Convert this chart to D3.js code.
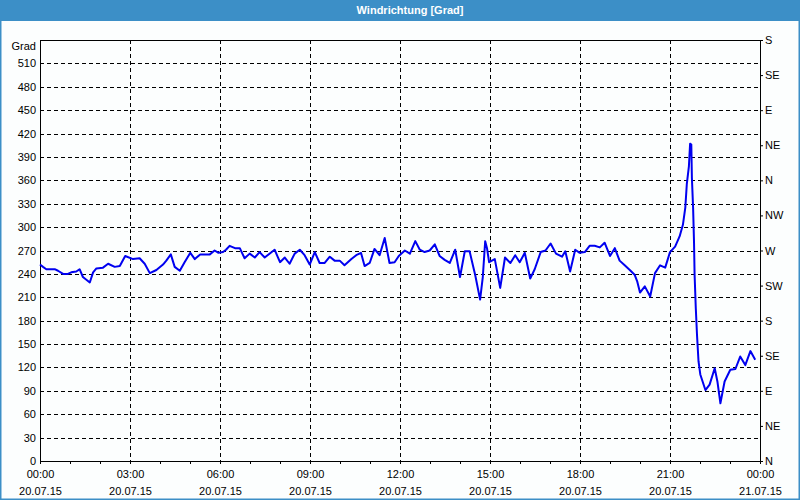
<!DOCTYPE html>
<html>
<head>
<meta charset="utf-8">
<script src="https://cdn.jsdelivr.net/npm/d3@7"></script>
<style>
  body { margin: 0; background: #fff; }
  svg { display: block; font-family: "Liberation Sans", Arial, sans-serif; }
</style>
</head>
<body>
<div id="chart"></div>
<script>
// Zeitpunkte in Stunden nach 20.07.15 00:00
const hours = [
  0, 0.1, 0.21, 0.49, 0.6, 0.77, 0.93, 1.04, 1.21, 1.32, 1.43, 1.66, 1.77, 1.88, 2.1, 2.27, 2.49, 2.66, 2.84,
  3.1, 3.32, 3.49, 3.66, 3.88, 4.1, 4.21, 4.36, 4.49, 4.66, 4.82, 5.01, 5.16, 5.34, 5.66, 5.82, 5.95,
  6.1, 6.2, 6.32, 6.5, 6.66, 6.82, 6.99, 7.16, 7.32, 7.49, 7.82, 8.0, 8.16, 8.32, 8.49, 8.66, 8.82, 8.99,
  9.16, 9.32, 9.49, 9.66, 9.82, 9.99, 10.15, 10.38, 10.54, 10.7, 10.82, 10.99, 11.15, 11.32, 11.49, 11.65, 11.82, 11.96,
  12.16, 12.33, 12.51, 12.66, 12.82, 12.99, 13.16, 13.32, 13.49, 13.66, 13.84, 14.0, 14.16, 14.32, 14.51, 14.67, 14.76,
  14.84, 14.9, 14.97, 15.16, 15.34, 15.5, 15.68, 15.84, 15.99, 16.16, 16.34, 16.49, 16.69, 16.85, 17.02, 17.2, 17.4,
  17.51, 17.67, 17.84, 17.99, 18.16, 18.32, 18.49, 18.66, 18.82, 19.0, 19.16, 19.32, 19.49, 19.66, 19.82, 19.91,
  20.0, 20.16, 20.34, 20.5, 20.67, 20.84, 21.0, 21.17, 21.32, 21.43, 21.51, 21.56, 21.63, 21.67, 21.71, 21.73,
  21.77, 21.8, 21.82, 21.86, 21.9, 21.95, 22.01, 22.18, 22.32, 22.49, 22.58, 22.68, 22.82, 23.01, 23.18, 23.34,
  23.51, 23.68, 23.84
];

// Windrichtung in Grad
const grad = [
  252, 249, 246, 246, 244, 240, 240, 242, 243, 246, 236, 229, 242, 247, 248, 253, 249, 250, 263,
  259, 260, 253, 241, 245, 252, 257, 265, 249, 244, 255, 267, 259, 265, 265, 270, 267,
  268, 271, 276, 273, 273, 260, 266, 261, 268, 261, 271, 255, 261, 253, 266, 271, 264, 252,
  268, 254, 254, 262, 257, 257, 251, 259, 264, 267, 250, 254, 272, 264, 286, 254, 255, 263,
  270, 266, 282, 271, 268, 270, 278, 263, 258, 254, 271, 236, 269, 269, 238, 207, 236,
  282, 273, 255, 259, 222, 261, 254, 264, 255, 267, 234, 246, 268, 270, 279, 266, 262,
  269, 243, 271, 267, 268, 276, 276, 274, 280, 263, 273, 257, 251, 245, 239, 230,
  216, 224, 211, 241, 251, 248, 268, 275, 288, 303, 325, 355, 378, 407, 406, 363,
  325, 282, 239, 196, 162, 128, 111, 91, 98, 119, 102, 74, 102, 117, 118, 134,
  123, 141, 130
];

// Achsenbeschriftung
const yTicks = d3.range(0, 511, 30);
const compassTicks = d3.range(0, 541, 45);
const compassNames = ["N", "NE", "E", "SE", "S", "SW", "W", "NW", "N", "NE", "E", "SE", "S"];
const title = "Windrichtung [Grad]";

const width = 800;
const height = 500;
const margin = { top: 40, right: 40, bottom: 39, left: 40 };
const blue = "#3c8fc7";

const start = new Date(2015, 6, 20, 0, 0);
const toDate = h => new Date(start.getTime() + h * 3600 * 1000);
const data = hours.map((h, i) => ({ t: toDate(h), v: grad[i] }));

const svg = d3.select("#chart")
  .append("svg")
  .attr("width", width)
  .attr("height", height);

// Hintergrund + Rahmen
svg.append("rect")
  .attr("x", 0.5).attr("y", 0.5)
  .attr("width", width - 1).attr("height", height - 1)
  .attr("fill", "#fcfefe")
  .attr("stroke", blue)
  .attr("stroke-width", 2);

// Titelleiste
svg.append("rect")
  .attr("x", 0).attr("y", 0)
  .attr("width", width).attr("height", 21)
  .attr("fill", blue);

svg.append("text")
  .attr("x", 410).attr("y", 14)
  .attr("text-anchor", "middle")
  .attr("fill", "#fff")
  .attr("font-size", "11px")
  .attr("font-weight", "bold")
  .text(title);

const x = d3.scaleTime()
  .domain([start, toDate(24)])
  .range([margin.left, width - margin.right]);

const y = d3.scaleLinear()
  .domain([0, 540])
  .range([height - margin.bottom, margin.top]);

// Gitter
const grid = svg.append("g")
  .attr("stroke", "#000")
  .attr("stroke-width", 1)
  .attr("stroke-dasharray", "4,3")
  .attr("shape-rendering", "crispEdges");

grid.selectAll(".h")
  .data(yTicks.filter(d => d > 0))
  .join("line")
  .attr("x1", margin.left).attr("x2", width - margin.right)
  .attr("y1", d => Math.round(y(d)) + 0.5)
  .attr("y2", d => Math.round(y(d)) + 0.5);

grid.selectAll(".v")
  .data(d3.range(3, 24, 3))
  .join("line")
  .attr("x1", d => Math.round(x(toDate(d))) + 0.5)
  .attr("x2", d => Math.round(x(toDate(d))) + 0.5)
  .attr("y1", margin.top).attr("y2", height - margin.bottom);

// Linke Achse
const yAxis = d3.axisLeft(y).tickValues(yTicks).tickSize(0).tickPadding(4);
svg.append("g")
  .attr("transform", "translate(" + margin.left + ",0)")
  .call(yAxis)
  .call(g => g.select(".domain").remove())
  .selectAll("text")
  .attr("font-size", "11px")
  .attr("fill", "#000");

svg.append("text")
  .attr("x", 36).attr("y", 50)
  .attr("text-anchor", "end")
  .attr("font-size", "11px")
  .text("Grad");

// Rechte Achse (Himmelsrichtungen)
const rAxis = d3.axisRight(y)
  .tickValues(compassTicks)
  .tickSize(3)
  .tickPadding(2)
  .tickFormat((d, i) => compassNames[i]);
svg.append("g")
  .attr("transform", "translate(" + (width - margin.right) + ",0)")
  .call(rAxis)
  .call(g => g.select(".domain").remove())
  .selectAll("text")
  .attr("font-size", "11px")
  .attr("fill", "#000");

// Untere Achse, kleine Striche jede Stunde
const xMinor = d3.axisBottom(x)
  .ticks(d3.timeHour.every(1))
  .tickSize(3)
  .tickFormat("");
svg.append("g")
  .attr("transform", "translate(0," + (height - margin.bottom) + ")")
  .call(xMinor)
  .call(g => g.select(".domain").remove());

const xTickDates = d3.range(0, 25, 3).map(toDate);
const xAxis = d3.axisBottom(x)
  .tickValues(xTickDates)
  .tickSize(0)
  .tickPadding(9)
  .tickFormat(d3.timeFormat("%H:%M"));
const xg = svg.append("g")
  .attr("transform", "translate(0," + (height - margin.bottom) + ")")
  .call(xAxis);
xg.select(".domain").remove();
xg.selectAll("text").attr("font-size", "11px").attr("fill", "#000");

// zweite Zeile mit Datum
xg.selectAll(".tick")
  .append("text")
  .attr("y", 34)
  .attr("fill", "#000")
  .attr("font-size", "11px")
  .attr("text-anchor", "middle")
  .text(d => d3.timeFormat("%d.%m.%y")(d));

// Rahmen vom Diagramm
svg.append("rect")
  .attr("x", margin.left + 0.5).attr("y", margin.top + 0.5)
  .attr("width", width - margin.left - margin.right)
  .attr("height", height - margin.top - margin.bottom)
  .attr("fill", "none")
  .attr("stroke", "#000")
  .attr("shape-rendering", "crispEdges");

// Linie
const line = d3.line()
  .x(d => x(d.t))
  .y(d => y(d.v));

svg.append("path")
  .datum(data)
  .attr("fill", "none")
  .attr("stroke", "#0000f0")
  .attr("stroke-width", 2)
  .attr("stroke-linejoin", "round")
  .attr("d", line);
</script>
</body>
</html>
